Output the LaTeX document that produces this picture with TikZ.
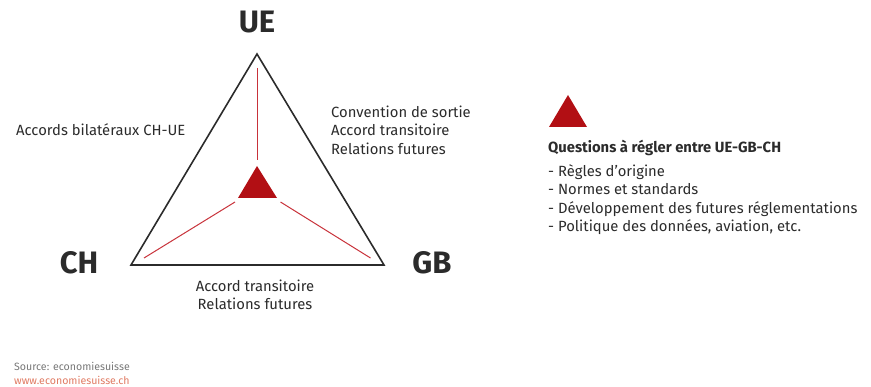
\documentclass[tikz,border=0pt]{standalone}
\usepackage{fontspec}
\setmainfont{Fira Sans}
\definecolor{dred}{HTML}{B20F14}
\definecolor{lred}{HTML}{C8323A}
\definecolor{txt}{HTML}{2B2B2B}
\definecolor{src}{HTML}{777777}
\definecolor{lnk}{HTML}{E07A62}
\begin{document}
\begin{tikzpicture}[x=1pt,y=-1pt,
  lbl/.style={font=\fontsize{14.8}{18.5}\selectfont, text=txt, inner sep=0pt},
  big/.style={font=\fontsize{31}{31}\bfseries\selectfont, text=txt, inner sep=0pt},
  redline/.style={draw=lred, line width=1pt},
  redtri/.style={fill=dred}]
\useasboundingbox (0,0) rectangle (871,387);
\coordinate (A) at (257,54);
\coordinate (B) at (131,265);
\coordinate (C) at (384,265);
\draw[line width=1.6pt, txt, line join=miter] (A) -- (B) -- (C) -- cycle;
\fill[redtri] (257,166) -- (238,198) -- (277,198) -- cycle;
\coordinate (v1) at (257.2,68); \coordinate (v2) at (257.2,160);
\coordinate (l1) at (235,202); \coordinate (l2) at (144,258);
\coordinate (r1) at (280.5,202); \coordinate (r2) at (370.5,258);
\draw[redline, line width=1.2pt] (v1) -- (v2);
\draw[redline] (l1) -- (l2);
\draw[redline] (r1) -- (r2);
\node[big] (ue) at (257,22) {UE};
\node[big] (ch) at (79,263) {CH};
\node[big] (gb) at (432,263) {GB};
\node[lbl, anchor=west] (bil) at (16,130) {Accords bilatéraux CH-UE};
\node[lbl, anchor=west, align=left] (conv) at (331,130) {Convention de sortie\\Accord transitoire\\Relations futures};
\node[lbl, anchor=center, align=center] (acc) at (255,295) {Accord transitoire\\Relations futures};
\fill[redtri] (568,95) -- (549,127) -- (587,127) -- cycle;
\node[lbl, font=\fontsize{14.8}{18.5}\bfseries\selectfont, anchor=west] (q) at (548,148) {Questions à régler entre UE-GB-CH};
\node[lbl, anchor=west, align=left] (list) at (548,199.5) {- Règles d’origine\\- Normes et standards\\- Développement des futures réglementations\\- Politique des données, aviation, etc.};
\node[lbl, font=\fontsize{10.6}{14}\selectfont, text=src, anchor=west] (s) at (14,366) {Source: economiesuisse};
\node[lbl, font=\fontsize{10.6}{14}\selectfont, text=lnk, anchor=west] (w) at (14,380) {www.economiesuisse.ch};
\end{tikzpicture}
\end{document}
